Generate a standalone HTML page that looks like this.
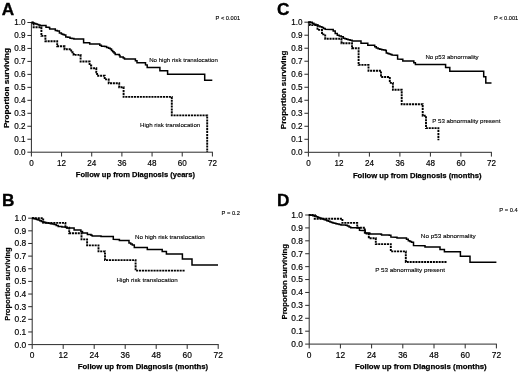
<!DOCTYPE html>
<html><head><meta charset="utf-8"><title>Figure</title>
<style>
html,body{margin:0;padding:0;background:#fff;}
svg{display:block;font-family:"Liberation Sans",sans-serif;will-change:transform;}
</style></head>
<body>
<svg width="520" height="372" viewBox="0 0 520 372">
<rect width="520" height="372" fill="#fff"/>
<g>
<path d="M31.4,22.0 V152.2 H212.9" fill="none" stroke="#2a2a2a" stroke-width="1"/>
<path d="M27.4,152.20 H31.4 M27.4,139.23 H31.4 M27.4,126.26 H31.4 M27.4,113.29 H31.4 M27.4,100.32 H31.4 M27.4,87.35 H31.4 M27.4,74.38 H31.4 M27.4,61.41 H31.4 M27.4,48.44 H31.4 M27.4,35.47 H31.4 M27.4,22.50 H31.4 M31.40,152.2 V156.5 M61.57,152.2 V156.5 M91.73,152.2 V156.5 M121.90,152.2 V156.5 M152.07,152.2 V156.5 M182.23,152.2 V156.5 M212.40,152.2 V156.5" fill="none" stroke="#2a2a2a" stroke-width="1"/>
<text transform="translate(25.55,155.10) scale(0.845,1)" text-anchor="end" font-size="9.6" fill="#000" stroke="#000" stroke-width="0.2">0.0</text>
<text transform="translate(25.55,142.13) scale(0.845,1)" text-anchor="end" font-size="9.6" fill="#000" stroke="#000" stroke-width="0.2">0.1</text>
<text transform="translate(25.55,129.16) scale(0.845,1)" text-anchor="end" font-size="9.6" fill="#000" stroke="#000" stroke-width="0.2">0.2</text>
<text transform="translate(25.55,116.19) scale(0.845,1)" text-anchor="end" font-size="9.6" fill="#000" stroke="#000" stroke-width="0.2">0.3</text>
<text transform="translate(25.55,103.22) scale(0.845,1)" text-anchor="end" font-size="9.6" fill="#000" stroke="#000" stroke-width="0.2">0.4</text>
<text transform="translate(25.55,90.25) scale(0.845,1)" text-anchor="end" font-size="9.6" fill="#000" stroke="#000" stroke-width="0.2">0.5</text>
<text transform="translate(25.55,77.28) scale(0.845,1)" text-anchor="end" font-size="9.6" fill="#000" stroke="#000" stroke-width="0.2">0.6</text>
<text transform="translate(25.55,64.31) scale(0.845,1)" text-anchor="end" font-size="9.6" fill="#000" stroke="#000" stroke-width="0.2">0.7</text>
<text transform="translate(25.55,51.34) scale(0.845,1)" text-anchor="end" font-size="9.6" fill="#000" stroke="#000" stroke-width="0.2">0.8</text>
<text transform="translate(25.55,38.37) scale(0.845,1)" text-anchor="end" font-size="9.6" fill="#000" stroke="#000" stroke-width="0.2">0.9</text>
<text transform="translate(25.55,25.40) scale(0.845,1)" text-anchor="end" font-size="9.6" fill="#000" stroke="#000" stroke-width="0.2">1.0</text>
<text transform="translate(31.40,165.90) scale(0.845,1)" text-anchor="middle" font-size="9.6" fill="#000" stroke="#000" stroke-width="0.2">0</text>
<text transform="translate(61.57,165.90) scale(0.845,1)" text-anchor="middle" font-size="9.6" fill="#000" stroke="#000" stroke-width="0.2">12</text>
<text transform="translate(91.73,165.90) scale(0.845,1)" text-anchor="middle" font-size="9.6" fill="#000" stroke="#000" stroke-width="0.2">24</text>
<text transform="translate(121.90,165.90) scale(0.845,1)" text-anchor="middle" font-size="9.6" fill="#000" stroke="#000" stroke-width="0.2">36</text>
<text transform="translate(152.07,165.90) scale(0.845,1)" text-anchor="middle" font-size="9.6" fill="#000" stroke="#000" stroke-width="0.2">48</text>
<text transform="translate(182.23,165.90) scale(0.845,1)" text-anchor="middle" font-size="9.6" fill="#000" stroke="#000" stroke-width="0.2">60</text>
<text transform="translate(212.40,165.90) scale(0.845,1)" text-anchor="middle" font-size="9.6" fill="#000" stroke="#000" stroke-width="0.2">72</text>
<text x="1.8" y="14.9" font-size="17.2" font-weight="bold" fill="#000" stroke="#000" stroke-width="0.35">A</text>
<text x="135.4" y="176.9" text-anchor="middle" font-size="8.0" font-weight="bold" fill="#000" stroke="#000" stroke-width="0.25" textLength="119.2" lengthAdjust="spacingAndGlyphs">Follow up from Diagnosis (years)</text>
<text transform="translate(9.3,88.1) rotate(-90)" text-anchor="middle" font-size="7.6" font-weight="bold" fill="#000" stroke="#000" stroke-width="0.2" textLength="80" lengthAdjust="spacingAndGlyphs">Proportion surviving</text>
<text x="215.6" y="20.0" font-size="5.5" fill="#000" stroke="#000" stroke-width="0.12" textLength="24.5" lengthAdjust="spacingAndGlyphs">P &lt; 0.001</text>
<text x="149.2" y="61.7" font-size="6.0" fill="#000" stroke="#000" stroke-width="0.12" textLength="68.7" lengthAdjust="spacingAndGlyphs">No high risk translocation</text>
<text x="140" y="127.3" font-size="6.0" fill="#000" stroke="#000" stroke-width="0.12" textLength="60.2" lengthAdjust="spacingAndGlyphs">High risk translocation</text>
<path d="M31.5,22.5 L33.6,22.5 L33.6,27.2 L40.3,27.2 L41.4,27.2 L41.4,35.9 L45.4,35.9 L45.4,41.2 L57.2,41.2 L57.2,46.3 L64.5,46.3 L64.5,49.2 L71.2,49.2 L71.2,52.2 L73.6,52.2 L73.6,54.9 L80.6,54.9 L80.6,61.5 L89.6,61.5 L89.6,65.5 L91.2,65.5 L91.2,68.2 L96.3,68.2 L96.3,72.4 L97.1,72.4 L97.1,75.7 L104.7,75.7 L104.7,79.4 L108.7,79.4 L108.7,83.3 L119.2,83.3 L119.2,87.2 L123.6,87.2 L123.6,96.9 L171.8,96.9 L171.8,115.4 L207.2,115.4 L207.2,152.0 L207.2,152.0" fill="none" stroke="#000" stroke-width="1.9" stroke-dasharray="2.1 0.8" stroke-linejoin="miter"/>
<path d="M31.5,22.5 L33.0,22.5 L33.0,23.0 L34.4,23.0 L34.4,23.5 L35.8,23.5 L35.8,23.9 L37.2,23.9 L37.2,24.4 L38.6,24.4 L38.6,24.9 L40.0,24.9 L40.0,25.5 L45.2,25.5 L46.0,25.5 L46.0,27.2 L48.9,27.2 L48.9,27.6 L49.7,27.6 L49.7,28.9 L54.5,28.9 L55.3,28.9 L55.3,30.5 L57.3,30.5 L57.3,30.9 L59.4,30.9 L59.4,32.9 L61.4,32.9 L61.4,34.1 L62.8,34.1 L62.8,34.5 L64.2,34.5 L64.2,34.9 L65.8,34.9 L65.8,36.9 L67.8,36.9 L67.8,37.3 L70.0,37.3 L70.0,38.2 L72.0,38.2 L72.0,38.6 L73.9,38.6 L73.9,39.0 L81.2,39.0 L83.6,39.0 L83.6,42.7 L88.1,42.7 L89.7,42.7 L89.7,44.1 L98.2,44.1 L99.8,44.1 L99.8,45.2 L101.4,45.2 L101.4,46.2 L104.6,46.2 L104.6,46.6 L106.6,46.6 L106.6,47.4 L108.6,47.4 L108.6,48.2 L110.3,48.2 L110.3,49.0 L111.5,49.0 L111.5,50.4 L112.7,50.4 L112.7,51.8 L114.0,51.8 L114.0,53.1 L115.2,53.1 L115.2,54.5 L117.6,54.5 L119.3,54.5 L119.3,55.5 L120.0,55.5 L120.0,57.1 L122.0,57.1 L123.2,57.1 L123.2,58.0 L124.5,58.0 L124.5,58.9 L133.8,58.9 L135.4,58.9 L135.4,60.7 L137.0,60.7 L137.0,62.7 L144.3,62.7 L145.5,62.7 L145.5,64.8 L147.2,65.0 L147.2,67.5 L159.9,67.5 L159.9,70.7 L167.6,70.7 L167.6,74.3 L204.7,74.3 L204.7,80.2 L212.3,80.2" fill="none" stroke="#000" stroke-width="1.5" stroke-linejoin="miter"/>
</g>
<g>
<path d="M308.4,21.7 V152.3 H491.9" fill="none" stroke="#2a2a2a" stroke-width="1"/>
<path d="M304.4,152.30 H308.4 M304.4,139.29 H308.4 M304.4,126.28 H308.4 M304.4,113.27 H308.4 M304.4,100.26 H308.4 M304.4,87.25 H308.4 M304.4,74.24 H308.4 M304.4,61.23 H308.4 M304.4,48.22 H308.4 M304.4,35.21 H308.4 M304.4,22.20 H308.4 M308.40,152.3 V156.60000000000002 M338.90,152.3 V156.60000000000002 M369.40,152.3 V156.60000000000002 M399.90,152.3 V156.60000000000002 M430.40,152.3 V156.60000000000002 M460.90,152.3 V156.60000000000002 M491.40,152.3 V156.60000000000002" fill="none" stroke="#2a2a2a" stroke-width="1"/>
<text transform="translate(302.55,155.20) scale(0.845,1)" text-anchor="end" font-size="9.6" fill="#000" stroke="#000" stroke-width="0.2">0.0</text>
<text transform="translate(302.55,142.19) scale(0.845,1)" text-anchor="end" font-size="9.6" fill="#000" stroke="#000" stroke-width="0.2">0.1</text>
<text transform="translate(302.55,129.18) scale(0.845,1)" text-anchor="end" font-size="9.6" fill="#000" stroke="#000" stroke-width="0.2">0.2</text>
<text transform="translate(302.55,116.17) scale(0.845,1)" text-anchor="end" font-size="9.6" fill="#000" stroke="#000" stroke-width="0.2">0.3</text>
<text transform="translate(302.55,103.16) scale(0.845,1)" text-anchor="end" font-size="9.6" fill="#000" stroke="#000" stroke-width="0.2">0.4</text>
<text transform="translate(302.55,90.15) scale(0.845,1)" text-anchor="end" font-size="9.6" fill="#000" stroke="#000" stroke-width="0.2">0.5</text>
<text transform="translate(302.55,77.14) scale(0.845,1)" text-anchor="end" font-size="9.6" fill="#000" stroke="#000" stroke-width="0.2">0.6</text>
<text transform="translate(302.55,64.13) scale(0.845,1)" text-anchor="end" font-size="9.6" fill="#000" stroke="#000" stroke-width="0.2">0.7</text>
<text transform="translate(302.55,51.12) scale(0.845,1)" text-anchor="end" font-size="9.6" fill="#000" stroke="#000" stroke-width="0.2">0.8</text>
<text transform="translate(302.55,38.11) scale(0.845,1)" text-anchor="end" font-size="9.6" fill="#000" stroke="#000" stroke-width="0.2">0.9</text>
<text transform="translate(302.55,25.10) scale(0.845,1)" text-anchor="end" font-size="9.6" fill="#000" stroke="#000" stroke-width="0.2">1.0</text>
<text transform="translate(308.40,166.00) scale(0.845,1)" text-anchor="middle" font-size="9.6" fill="#000" stroke="#000" stroke-width="0.2">0</text>
<text transform="translate(338.90,166.00) scale(0.845,1)" text-anchor="middle" font-size="9.6" fill="#000" stroke="#000" stroke-width="0.2">12</text>
<text transform="translate(369.40,166.00) scale(0.845,1)" text-anchor="middle" font-size="9.6" fill="#000" stroke="#000" stroke-width="0.2">24</text>
<text transform="translate(399.90,166.00) scale(0.845,1)" text-anchor="middle" font-size="9.6" fill="#000" stroke="#000" stroke-width="0.2">36</text>
<text transform="translate(430.40,166.00) scale(0.845,1)" text-anchor="middle" font-size="9.6" fill="#000" stroke="#000" stroke-width="0.2">48</text>
<text transform="translate(460.90,166.00) scale(0.845,1)" text-anchor="middle" font-size="9.6" fill="#000" stroke="#000" stroke-width="0.2">60</text>
<text transform="translate(491.40,166.00) scale(0.845,1)" text-anchor="middle" font-size="9.6" fill="#000" stroke="#000" stroke-width="0.2">72</text>
<text x="277.1" y="14.8" font-size="17.2" font-weight="bold" fill="#000" stroke="#000" stroke-width="0.35">C</text>
<text x="417.2" y="178.4" text-anchor="middle" font-size="8.0" font-weight="bold" fill="#000" stroke="#000" stroke-width="0.25" textLength="128.6" lengthAdjust="spacingAndGlyphs">Follow up from Diagnosis (months)</text>
<text transform="translate(286.4,89.9) rotate(-90)" text-anchor="middle" font-size="7.6" font-weight="bold" fill="#000" stroke="#000" stroke-width="0.2" textLength="78.5" lengthAdjust="spacingAndGlyphs">Proportion surviving</text>
<text x="494" y="19.8" font-size="5.5" fill="#000" stroke="#000" stroke-width="0.12" textLength="24.2" lengthAdjust="spacingAndGlyphs">P &lt; 0.001</text>
<text x="425.4" y="58.8" font-size="6.0" fill="#000" stroke="#000" stroke-width="0.12" textLength="53.3" lengthAdjust="spacingAndGlyphs">No p53 abnormality</text>
<text x="432.3" y="122.9" font-size="6.0" fill="#000" stroke="#000" stroke-width="0.12" textLength="68.2" lengthAdjust="spacingAndGlyphs">P 53 abnormality present</text>
<path d="M308.4,22.2 L310.0,22.2 L310.0,25.1 L313.5,25.1 L317.5,25.1 L317.5,29.9 L322.0,29.9 L322.0,34.4 L325.2,34.4 L325.2,38.8 L341.5,38.8 L341.5,43.2 L352.0,43.2 L352.0,48.3 L357.8,48.3 L358.6,48.3 L358.6,64.9 L368.5,64.9 L368.5,70.7 L381.0,70.7 L381.0,77.0 L389.8,77.0 L389.8,82.9 L392.9,82.9 L392.9,89.8 L401.7,89.8 L401.7,104.2 L422.7,104.2 L422.7,115.8 L426.0,115.8 L426.0,128.1 L438.4,128.1 L438.4,140.3 L438.4,140.3" fill="none" stroke="#000" stroke-width="1.9" stroke-dasharray="2.1 0.8" stroke-linejoin="miter"/>
<path d="M308.2,22.3 L310.6,22.3 L312.2,22.3 L312.2,23.3 L313.9,23.3 L313.9,24.3 L315.9,24.3 L315.9,25.1 L317.9,25.1 L317.9,25.9 L319.9,25.9 L319.9,26.7 L321.9,26.7 L321.9,27.5 L323.5,27.5 L323.5,28.4 L325.2,28.4 L325.2,29.2 L331.6,29.4 L333.2,29.4 L333.2,31.1 L335.2,31.1 L335.2,33.5 L337.3,33.5 L337.3,35.2 L339.3,35.2 L339.3,36.0 L341.3,36.0 L341.3,36.8 L343.3,36.8 L343.3,38.3 L344.9,38.3 L344.9,38.8 L346.5,38.8 L346.5,39.2 L348.1,39.2 L348.1,39.7 L350.1,39.7 L350.1,40.3 L352.1,40.3 L352.1,40.9 L359.0,40.9 L361.0,40.9 L361.0,43.3 L366.2,43.3 L367.8,43.3 L367.8,45.3 L373.1,45.3 L374.7,45.3 L374.7,46.7 L376.3,46.7 L376.3,48.1 L378.1,48.1 L378.1,48.7 L379.8,48.7 L379.8,49.3 L381.7,49.3 L381.7,49.7 L383.6,49.7 L383.6,50.1 L385.5,50.1 L385.5,50.5 L386.3,50.5 L386.3,52.9 L387.7,52.9 L387.7,53.4 L389.1,53.4 L389.1,54.0 L390.6,54.0 L390.6,54.5 L392.0,54.5 L392.0,55.0 L396.4,55.2 L397.6,55.2 L397.6,59.1 L401.6,59.3 L402.8,59.3 L402.8,61.1 L412.1,61.1 L413.8,61.1 L413.8,62.8 L415.4,62.8 L415.4,64.6 L445.6,64.6 L445.6,67.5 L449.8,67.5 L449.8,71.3 L483.7,71.3 L483.7,76.8 L485.8,76.8 L485.8,82.9 L491.5,82.9" fill="none" stroke="#000" stroke-width="1.5" stroke-linejoin="miter"/>
</g>
<g>
<path d="M32.2,217.7 V344.6 H218.7" fill="none" stroke="#2a2a2a" stroke-width="1"/>
<path d="M28.200000000000003,344.60 H32.2 M28.200000000000003,331.96 H32.2 M28.200000000000003,319.32 H32.2 M28.200000000000003,306.68 H32.2 M28.200000000000003,294.04 H32.2 M28.200000000000003,281.40 H32.2 M28.200000000000003,268.76 H32.2 M28.200000000000003,256.12 H32.2 M28.200000000000003,243.48 H32.2 M28.200000000000003,230.84 H32.2 M28.200000000000003,218.20 H32.2 M32.20,344.6 V348.90000000000003 M63.20,344.6 V348.90000000000003 M94.20,344.6 V348.90000000000003 M125.20,344.6 V348.90000000000003 M156.20,344.6 V348.90000000000003 M187.20,344.6 V348.90000000000003 M218.20,344.6 V348.90000000000003" fill="none" stroke="#2a2a2a" stroke-width="1"/>
<text transform="translate(26.20,347.50) scale(0.875,1)" text-anchor="end" font-size="9.6" fill="#000" stroke="#000" stroke-width="0.2">0.0</text>
<text transform="translate(26.20,334.86) scale(0.875,1)" text-anchor="end" font-size="9.6" fill="#000" stroke="#000" stroke-width="0.2">0.1</text>
<text transform="translate(26.20,322.22) scale(0.875,1)" text-anchor="end" font-size="9.6" fill="#000" stroke="#000" stroke-width="0.2">0.2</text>
<text transform="translate(26.20,309.58) scale(0.875,1)" text-anchor="end" font-size="9.6" fill="#000" stroke="#000" stroke-width="0.2">0.3</text>
<text transform="translate(26.20,296.94) scale(0.875,1)" text-anchor="end" font-size="9.6" fill="#000" stroke="#000" stroke-width="0.2">0.4</text>
<text transform="translate(26.20,284.30) scale(0.875,1)" text-anchor="end" font-size="9.6" fill="#000" stroke="#000" stroke-width="0.2">0.5</text>
<text transform="translate(26.20,271.66) scale(0.875,1)" text-anchor="end" font-size="9.6" fill="#000" stroke="#000" stroke-width="0.2">0.6</text>
<text transform="translate(26.20,259.02) scale(0.875,1)" text-anchor="end" font-size="9.6" fill="#000" stroke="#000" stroke-width="0.2">0.7</text>
<text transform="translate(26.20,246.38) scale(0.875,1)" text-anchor="end" font-size="9.6" fill="#000" stroke="#000" stroke-width="0.2">0.8</text>
<text transform="translate(26.20,233.74) scale(0.875,1)" text-anchor="end" font-size="9.6" fill="#000" stroke="#000" stroke-width="0.2">0.9</text>
<text transform="translate(26.20,221.10) scale(0.875,1)" text-anchor="end" font-size="9.6" fill="#000" stroke="#000" stroke-width="0.2">1.0</text>
<text transform="translate(32.20,357.70) scale(0.875,1)" text-anchor="middle" font-size="9.6" fill="#000" stroke="#000" stroke-width="0.2">0</text>
<text transform="translate(63.20,357.70) scale(0.875,1)" text-anchor="middle" font-size="9.6" fill="#000" stroke="#000" stroke-width="0.2">12</text>
<text transform="translate(94.20,357.70) scale(0.875,1)" text-anchor="middle" font-size="9.6" fill="#000" stroke="#000" stroke-width="0.2">24</text>
<text transform="translate(125.20,357.70) scale(0.875,1)" text-anchor="middle" font-size="9.6" fill="#000" stroke="#000" stroke-width="0.2">36</text>
<text transform="translate(156.20,357.70) scale(0.875,1)" text-anchor="middle" font-size="9.6" fill="#000" stroke="#000" stroke-width="0.2">48</text>
<text transform="translate(187.20,357.70) scale(0.875,1)" text-anchor="middle" font-size="9.6" fill="#000" stroke="#000" stroke-width="0.2">60</text>
<text transform="translate(218.20,357.70) scale(0.875,1)" text-anchor="middle" font-size="9.6" fill="#000" stroke="#000" stroke-width="0.2">72</text>
<text x="2.0" y="206.2" font-size="17.2" font-weight="bold" fill="#000" stroke="#000" stroke-width="0.35">B</text>
<text x="143" y="368.9" text-anchor="middle" font-size="8.0" font-weight="bold" fill="#000" stroke="#000" stroke-width="0.25" textLength="130.4" lengthAdjust="spacingAndGlyphs">Follow up from Diagnosis (months)</text>
<text transform="translate(10.2,284.1) rotate(-90)" text-anchor="middle" font-size="7.6" font-weight="bold" fill="#000" stroke="#000" stroke-width="0.2" textLength="73.5" lengthAdjust="spacingAndGlyphs">Proportion surviving</text>
<text x="221.6" y="215.0" font-size="5.5" fill="#000" stroke="#000" stroke-width="0.12" textLength="18.3" lengthAdjust="spacingAndGlyphs">P = 0.2</text>
<text x="135" y="238.8" font-size="6.0" fill="#000" stroke="#000" stroke-width="0.12" textLength="69.8" lengthAdjust="spacingAndGlyphs">No high risk translocation</text>
<text x="116.5" y="281.6" font-size="6.0" fill="#000" stroke="#000" stroke-width="0.12" textLength="61.3" lengthAdjust="spacingAndGlyphs">High risk translocation</text>
<path d="M31.9,218.2 L43.2,218.2 L43.2,222.9 L65.4,222.9 L65.4,227.8 L69.2,227.8 L69.2,233.3 L81.5,233.3 L81.5,239.4 L87.1,239.4 L87.1,245.4 L98.5,245.4 L98.5,251.4 L105.0,251.4 L105.0,260.1 L135.6,260.1 L135.6,270.6 L185.0,270.6" fill="none" stroke="#000" stroke-width="1.9" stroke-dasharray="2.1 0.8" stroke-linejoin="miter"/>
<path d="M32.0,218.1 L33.5,218.1 L33.5,218.6 L35.0,218.6 L35.0,219.1 L36.6,219.1 L36.6,219.6 L38.1,219.6 L38.1,220.1 L39.7,220.1 L39.7,220.8 L41.3,220.8 L41.3,221.4 L42.9,221.4 L42.9,222.1 L44.8,222.1 L44.8,222.5 L46.6,222.5 L46.6,222.9 L48.5,222.9 L48.5,223.3 L50.4,223.3 L50.4,223.7 L52.3,223.7 L52.3,224.1 L54.2,224.1 L54.2,224.5 L56.2,224.5 L56.2,225.5 L58.2,225.5 L58.2,226.5 L61.9,226.5 L61.9,226.9 L65.5,226.9 L65.5,227.3 L67.2,227.3 L67.2,227.9 L72.0,228.0 L74.1,228.0 L74.1,230.1 L79.3,230.1 L80.9,230.1 L80.9,231.5 L82.5,231.5 L82.5,232.9 L85.8,232.9 L87.4,232.9 L87.4,234.5 L89.8,234.5 L91.0,234.5 L91.0,235.3 L92.2,235.3 L92.2,236.1 L99.5,236.1 L101.0,236.1 L101.0,236.5 L112.5,236.6 L113.3,236.6 L113.3,239.3 L118.1,239.6 L119.4,239.6 L119.4,240.5 L127.0,240.5 L129.0,240.5 L129.0,242.9 L130.7,242.9 L130.7,243.9 L132.3,243.9 L132.3,245.0 L134.3,245.0 L134.3,247.6 L147.3,247.6 L147.3,249.4 L162.2,249.4 L162.2,251.4 L166.4,251.4 L166.4,254.1 L182.4,254.1 L182.4,259.0 L192.0,259.0 L192.0,265.0 L218.0,265.0" fill="none" stroke="#000" stroke-width="1.5" stroke-linejoin="miter"/>
</g>
<g>
<path d="M309.2,214.5 V344.1 H496.9" fill="none" stroke="#2a2a2a" stroke-width="1"/>
<path d="M305.2,344.10 H309.2 M305.2,331.19 H309.2 M305.2,318.28 H309.2 M305.2,305.37 H309.2 M305.2,292.46 H309.2 M305.2,279.55 H309.2 M305.2,266.64 H309.2 M305.2,253.73 H309.2 M305.2,240.82 H309.2 M305.2,227.91 H309.2 M305.2,215.00 H309.2 M309.20,344.1 V348.40000000000003 M340.40,344.1 V348.40000000000003 M371.60,344.1 V348.40000000000003 M402.80,344.1 V348.40000000000003 M434.00,344.1 V348.40000000000003 M465.20,344.1 V348.40000000000003 M496.40,344.1 V348.40000000000003" fill="none" stroke="#2a2a2a" stroke-width="1"/>
<text transform="translate(302.90,347.00) scale(0.875,1)" text-anchor="end" font-size="9.6" fill="#000" stroke="#000" stroke-width="0.2">0.0</text>
<text transform="translate(302.90,334.09) scale(0.875,1)" text-anchor="end" font-size="9.6" fill="#000" stroke="#000" stroke-width="0.2">0.1</text>
<text transform="translate(302.90,321.18) scale(0.875,1)" text-anchor="end" font-size="9.6" fill="#000" stroke="#000" stroke-width="0.2">0.2</text>
<text transform="translate(302.90,308.27) scale(0.875,1)" text-anchor="end" font-size="9.6" fill="#000" stroke="#000" stroke-width="0.2">0.3</text>
<text transform="translate(302.90,295.36) scale(0.875,1)" text-anchor="end" font-size="9.6" fill="#000" stroke="#000" stroke-width="0.2">0.4</text>
<text transform="translate(302.90,282.45) scale(0.875,1)" text-anchor="end" font-size="9.6" fill="#000" stroke="#000" stroke-width="0.2">0.5</text>
<text transform="translate(302.90,269.54) scale(0.875,1)" text-anchor="end" font-size="9.6" fill="#000" stroke="#000" stroke-width="0.2">0.6</text>
<text transform="translate(302.90,256.63) scale(0.875,1)" text-anchor="end" font-size="9.6" fill="#000" stroke="#000" stroke-width="0.2">0.7</text>
<text transform="translate(302.90,243.72) scale(0.875,1)" text-anchor="end" font-size="9.6" fill="#000" stroke="#000" stroke-width="0.2">0.8</text>
<text transform="translate(302.90,230.81) scale(0.875,1)" text-anchor="end" font-size="9.6" fill="#000" stroke="#000" stroke-width="0.2">0.9</text>
<text transform="translate(302.90,217.90) scale(0.875,1)" text-anchor="end" font-size="9.6" fill="#000" stroke="#000" stroke-width="0.2">1.0</text>
<text transform="translate(309.20,357.60) scale(0.875,1)" text-anchor="middle" font-size="9.6" fill="#000" stroke="#000" stroke-width="0.2">0</text>
<text transform="translate(340.40,357.60) scale(0.875,1)" text-anchor="middle" font-size="9.6" fill="#000" stroke="#000" stroke-width="0.2">12</text>
<text transform="translate(371.60,357.60) scale(0.875,1)" text-anchor="middle" font-size="9.6" fill="#000" stroke="#000" stroke-width="0.2">24</text>
<text transform="translate(402.80,357.60) scale(0.875,1)" text-anchor="middle" font-size="9.6" fill="#000" stroke="#000" stroke-width="0.2">36</text>
<text transform="translate(434.00,357.60) scale(0.875,1)" text-anchor="middle" font-size="9.6" fill="#000" stroke="#000" stroke-width="0.2">48</text>
<text transform="translate(465.20,357.60) scale(0.875,1)" text-anchor="middle" font-size="9.6" fill="#000" stroke="#000" stroke-width="0.2">60</text>
<text transform="translate(496.40,357.60) scale(0.875,1)" text-anchor="middle" font-size="9.6" fill="#000" stroke="#000" stroke-width="0.2">72</text>
<text x="277.0" y="206.1" font-size="17.2" font-weight="bold" fill="#000" stroke="#000" stroke-width="0.35">D</text>
<text x="420.8" y="368.9" text-anchor="middle" font-size="8.0" font-weight="bold" fill="#000" stroke="#000" stroke-width="0.25" textLength="131.8" lengthAdjust="spacingAndGlyphs">Follow up from Diagnosis (months)</text>
<text transform="translate(286.9,281.8) rotate(-90)" text-anchor="middle" font-size="7.6" font-weight="bold" fill="#000" stroke="#000" stroke-width="0.2" textLength="75.4" lengthAdjust="spacingAndGlyphs">Proportion surviving</text>
<text x="499.3" y="211.9" font-size="5.5" fill="#000" stroke="#000" stroke-width="0.12" textLength="18.5" lengthAdjust="spacingAndGlyphs">P = 0.4</text>
<text x="420.8" y="237.6" font-size="6.0" fill="#000" stroke="#000" stroke-width="0.12" textLength="55" lengthAdjust="spacingAndGlyphs">No p53 abnormality</text>
<text x="375.2" y="272.3" font-size="6.0" fill="#000" stroke="#000" stroke-width="0.12" textLength="69.8" lengthAdjust="spacingAndGlyphs">P 53 abnormality present</text>
<path d="M308.7,215.0 L314.7,215.0 L314.7,218.7 L342.4,218.7 L342.4,222.9 L357.2,222.9 L357.2,227.7 L364.8,227.7 L364.8,233.5 L368.8,233.5 L368.8,238.2 L375.8,238.2 L375.8,244.1 L390.8,244.1 L390.8,251.4 L405.8,251.4 L405.8,262.0 L446.6,262.0" fill="none" stroke="#000" stroke-width="1.9" stroke-dasharray="2.1 0.8" stroke-linejoin="miter"/>
<path d="M309.0,214.9 L310.9,214.9 L310.9,215.3 L312.8,215.3 L312.8,215.7 L314.7,215.7 L314.7,216.1 L316.3,216.1 L316.3,216.8 L317.9,216.8 L317.9,217.4 L319.5,217.4 L319.5,218.1 L320.9,218.1 L320.9,218.6 L322.4,218.6 L322.4,219.1 L323.8,219.1 L323.8,219.6 L325.2,219.6 L325.2,220.1 L326.8,220.1 L326.8,220.7 L328.4,220.7 L328.4,221.3 L330.0,221.3 L330.0,221.9 L331.6,221.9 L331.6,222.5 L333.0,222.5 L333.0,222.9 L334.5,222.9 L334.5,223.3 L335.9,223.3 L335.9,223.7 L337.3,223.7 L337.3,224.1 L339.1,224.1 L339.1,224.5 L341.0,224.5 L341.0,224.9 L345.8,224.9 L345.8,225.3 L347.4,225.3 L347.4,226.1 L349.1,226.1 L349.1,226.9 L350.7,226.9 L350.7,227.7 L357.1,227.7 L359.5,227.7 L359.5,230.3 L362.8,230.5 L365.2,230.5 L365.2,232.9 L368.8,232.9 L368.8,233.3 L370.0,233.3 L370.0,234.0 L381.0,234.0 L381.0,234.3 L381.6,234.3 L381.6,234.9 L389.3,234.9 L389.3,235.3 L390.9,235.3 L390.9,237.1 L395.8,237.3 L397.0,237.3 L397.0,237.9 L404.6,237.9 L406.5,237.9 L406.5,239.3 L408.3,239.3 L408.3,240.7 L409.9,240.7 L409.9,241.5 L411.5,241.5 L411.5,242.3 L413.5,242.3 L413.5,245.5 L425.0,245.7 L425.0,247.1 L440.0,247.1 L440.0,249.4 L444.4,249.4 L444.4,251.7 L460.4,251.7 L460.4,256.2 L470.0,256.2 L470.0,262.2 L496.4,262.2" fill="none" stroke="#000" stroke-width="1.5" stroke-linejoin="miter"/>
</g>
</svg>
</body></html>
